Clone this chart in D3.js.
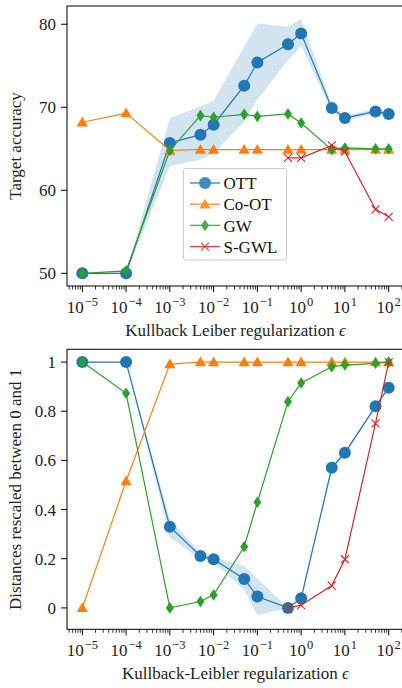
<!DOCTYPE html>
<html>
<head>
<meta charset="utf-8">
<script src="https://cdn.jsdelivr.net/npm/d3@7/dist/d3.min.js"></script>
<style>
  html, body { margin: 0; padding: 0; background: #fff; }
  svg { display: block; font-family: "Liberation Serif", "Times New Roman", serif; }
</style>
</head>
<body>
<svg id="chart" width="402" height="688"></svg>
<script>
// regularization values used for every method
const eps = [1e-5, 1e-4, 1e-3, 5e-3, 1e-2, 5e-2, 1e-1, 5e-1, 1, 5, 10, 50, 100];
const sgwlEps = [5e-1, 1, 5, 10, 50, 100];

// target accuracy
const accOTT = [50, 50, 65.7, 66.7, 67.9, 72.6, 75.4, 77.6, 78.9, 69.9, 68.7, 69.5, 69.2];
const accOTTLow = [50, 49.9, 62.9, 63.7, 64.4, 68.3, 70.9, 75.7, 77.4, 69.5, 68.4, 69.2, 69.0];
const accOTTHigh = [50, 50.1, 68.7, 70.1, 70.8, 77.3, 80.1, 79.7, 80.6, 70.3, 69.0, 69.8, 69.4];
const accCoOT = [68.2, 69.3, 64.8, 64.9, 64.9, 64.9, 64.9, 64.9, 64.9, 64.9, 64.9, 64.9, 64.9];
const accGW = [50, 50.3, 64.8, 69.0, 68.8, 69.15, 68.9, 69.2, 68.1, 64.9, 65.1, 65.0, 65.0];
const accSGWL = [63.9, 63.9, 65.4, 64.65, 57.7, 56.8];

// rescaled distances
const distOTT = [1, 1, 0.33, 0.211, 0.198, 0.118, 0.046, 0, 0.039, 0.570, 0.631, 0.820, 0.896];
const distOTTLow = [1, 1, 0.285, 0.200, 0.188, 0.073, -0.03, 0, 0.033, 0.560, 0.625, 0.814, 0.892];
const distOTTHigh = [1, 1, 0.36, 0.225, 0.206, 0.171, 0.12, 0, 0.045, 0.580, 0.637, 0.826, 0.900];
const distCoOT = [0, 0.516, 0.992, 1, 1, 1, 1, 1, 1, 1, 1, 1, 1];
const distGW = [1, 0.873, 0, 0.026, 0.053, 0.249, 0.43, 0.839, 0.915, 0.981, 0.988, 0.995, 1];
const distSGWL = [0, 0.011, 0.091, 0.198, 0.751, 1];

const accTicks = [50, 60, 70, 80];
const distTicks = [0, 0.2, 0.4, 0.6, 0.8, 1];
const decades = [-5, -4, -3, -2, -1, 0, 1, 2];
const methods = ['OTT', 'Co-OT', 'GW', 'S-GWL'];

const colors = { 'OTT': '#1f77b4', 'Co-OT': '#ff7f0e', 'GW': '#2ca02c', 'S-GWL': '#d62728' };

const svg = d3.select('#chart');
const left = 67, right = 404;

const x = d3.scaleLog()
  .domain([Math.pow(10, -5.35), Math.pow(10, 2.35)])
  .range([left, right]);

function marker(g, type, cx, cy, color) {
  if (type === 'OTT') {
    g.append('circle').attr('cx', cx).attr('cy', cy).attr('r', 6).attr('fill', color);
  } else if (type === 'Co-OT') {
    const s = 5.6;
    g.append('path')
      .attr('d', `M${cx},${cy - s}L${cx + s * 1.0},${cy + s * 0.75}L${cx - s * 1.0},${cy + s * 0.75}Z`)
      .attr('fill', color);
  } else if (type === 'GW') {
    g.append('path')
      .attr('d', `M${cx},${cy - 5.8}L${cx + 4},${cy}L${cx},${cy + 5.8}L${cx - 4},${cy}Z`)
      .attr('fill', color);
  } else {
    const s = 4;
    g.append('path')
      .attr('d', `M${cx - s},${cy - s}L${cx + s},${cy + s}M${cx - s},${cy + s}L${cx + s},${cy - s}`)
      .attr('stroke', color).attr('stroke-width', 1.1).attr('fill', 'none');
  }
}

function drawPanel(opt) {
  const y = d3.scaleLinear().domain(opt.yDomain).range([opt.bottom, opt.top]);
  const g = svg.append('g');

  // confidence band of OTT
  const band = d3.area()
    .x(d => x(d[0]))
    .y0(d => y(d[1]))
    .y1(d => y(d[2]));
  g.append('path')
    .datum(eps.map((e, i) => [e, opt.ottLow[i], opt.ottHigh[i]]))
    .attr('d', band)
    .attr('fill', '#1f77b4')
    .attr('fill-opacity', 0.2);

  const line = d3.line().x(d => x(d[0])).y(d => y(d[1]));
  opt.series.forEach(s => {
    const pts = s.xs.map((e, i) => [e, s.ys[i]]);
    g.append('path')
      .datum(pts)
      .attr('d', line)
      .attr('fill', 'none')
      .attr('stroke', colors[s.name])
      .attr('stroke-width', 1.2);
    const mg = g.append('g');
    pts.forEach(p => marker(mg, s.name, x(p[0]), y(p[1]), colors[s.name]));
  });

  // frame
  g.append('rect')
    .attr('x', left).attr('y', opt.top)
    .attr('width', right - left).attr('height', opt.bottom - opt.top)
    .attr('fill', 'none').attr('stroke', '#000').attr('stroke-width', 1);

  // x ticks: major at decades, minor in between
  const ax = g.append('g');
  const [d0, d1] = x.domain();
  for (let p = -6; p <= 2; p++) {
    for (let m = 1; m <= 9; m++) {
      const v = m * Math.pow(10, p);
      if (v < d0 || v > d1) continue;
      const px = x(v);
      ax.append('line')
        .attr('x1', px).attr('x2', px)
        .attr('y1', opt.bottom).attr('y2', opt.bottom + (m === 1 ? 6 : 3.5))
        .attr('stroke', '#000').attr('stroke-width', m === 1 ? 1 : 0.8);
    }
  }
  decades.forEach(p => {
    const t = ax.append('text')
      .attr('x', x(Math.pow(10, p)))
      .attr('y', opt.bottom + 27)
      .attr('text-anchor', 'middle')
      .attr('font-size', 17)
      .attr('fill', '#222');
    t.append('tspan').text('10');
    t.append('tspan')
      .attr('dy', -7.5)
      .attr('dx', 1)
      .attr('font-size', 12.5)
      .text(p < 0 ? '\u2212' + (-p) : String(p));
  });

  // y ticks
  opt.yTicks.forEach(v => {
    ax.append('line')
      .attr('x1', left - 6).attr('x2', left)
      .attr('y1', y(v)).attr('y2', y(v))
      .attr('stroke', '#000');
    ax.append('text')
      .attr('x', left - 11)
      .attr('y', y(v))
      .attr('dy', '0.35em')
      .attr('text-anchor', 'end')
      .attr('font-size', 17)
      .attr('fill', '#222')
      .text(opt.fmt(v));
  });

  // axis titles
  const xl = ax.append('text')
    .attr('x', (left + right) / 2)
    .attr('y', opt.bottom + 50)
    .attr('text-anchor', 'middle')
    .attr('font-size', 17)
    .attr('fill', '#222')
    .text(opt.xLabel + ' ');
  xl.append('tspan').attr('font-style', 'italic').text('\u03f5');

  ax.append('text')
    .attr('transform', `translate(21,${(opt.top + opt.bottom) / 2}) rotate(-90)`)
    .attr('text-anchor', 'middle')
    .attr('font-size', 17)
    .attr('fill', '#222')
    .text(opt.yLabel);
}

drawPanel({
  top: 6, bottom: 286,
  yDomain: [48.47, 82.2],
  yTicks: accTicks,
  fmt: d => String(d),
  ottLow: accOTTLow, ottHigh: accOTTHigh,
  series: [
    { name: 'OTT', xs: eps, ys: accOTT },
    { name: 'Co-OT', xs: eps, ys: accCoOT },
    { name: 'GW', xs: eps, ys: accGW },
    { name: 'S-GWL', xs: sgwlEps, ys: accSGWL }
  ],
  xLabel: 'Kullback Leiber regularization',
  yLabel: 'Target accuracy'
});

drawPanel({
  top: 349.3, bottom: 629.3,
  yDomain: [-0.087, 1.052],
  yTicks: distTicks,
  fmt: d => d === 0 || d === 1 ? String(d) : d.toFixed(1),
  ottLow: distOTTLow, ottHigh: distOTTHigh,
  series: [
    { name: 'OTT', xs: eps, ys: distOTT },
    { name: 'Co-OT', xs: eps, ys: distCoOT },
    { name: 'GW', xs: eps, ys: distGW },
    { name: 'S-GWL', xs: sgwlEps, ys: distSGWL }
  ],
  xLabel: 'Kullback-Leibler regularization',
  yLabel: 'Distances rescaled between 0 and 1'
});

// legend on the accuracy panel
const lg = svg.append('g').attr('transform', 'translate(183.5,168.5)');
lg.append('rect')
  .attr('width', 103).attr('height', 91.5)
  .attr('rx', 2)
  .attr('fill', '#fff').attr('fill-opacity', 0.8)
  .attr('stroke', '#ccc').attr('stroke-width', 1);
methods.forEach((m, i) => {
  const cy = 14.5 + i * 21.2;
  const item = lg.append('g').attr('opacity', 0.85);
  item.append('line')
    .attr('x1', 6.5).attr('x2', 36.5)
    .attr('y1', cy).attr('y2', cy)
    .attr('stroke', colors[m]).attr('stroke-width', 1.4);
  marker(item, m, 21.5, cy, colors[m]);
  lg.append('text')
    .attr('x', 40)
    .attr('y', cy)
    .attr('dy', '0.36em')
    .attr('font-size', 17)
    .attr('fill', '#111')
    .text(m);
});
</script>
</body>
</html>
